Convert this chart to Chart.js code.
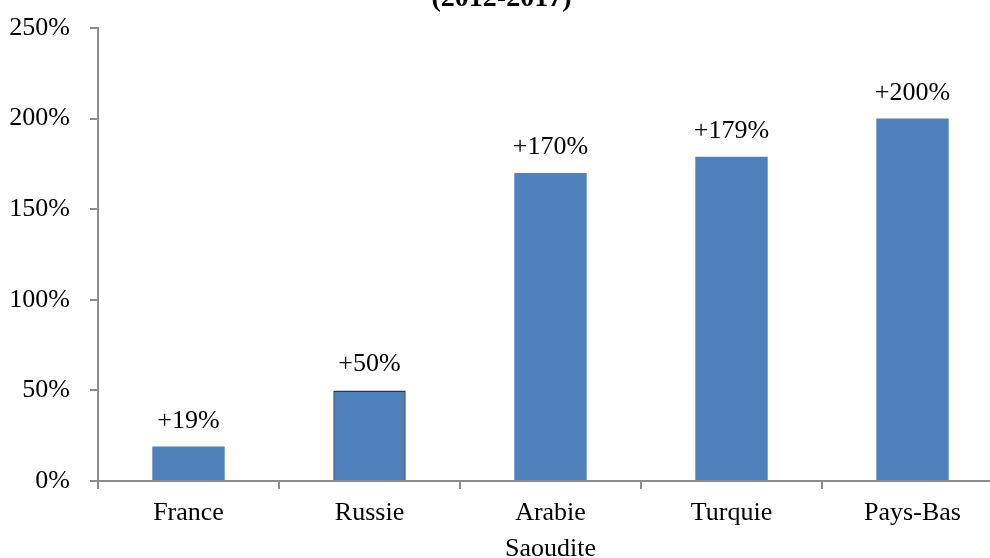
<!DOCTYPE html>
<html>
<head>
<meta charset="utf-8">
<script src="https://cdn.jsdelivr.net/npm/chart.js@4.4.0/dist/chart.umd.min.js"></script>
<style>
html,body{margin:0;padding:0;background:#fff;overflow:hidden;width:990px;height:558px;}
#wrap{position:absolute;left:0;top:-20px;width:1003px;height:600px;}
canvas{display:block;}
</style>
</head>
<body>
<div id="wrap"><canvas id="c" width="1003" height="600"></canvas></div>
<script>
const categories = [["France"], ["Russie"], ["Arabie", "Saoudite"], ["Turquie"], ["Pays-Bas"]];
const growth = [19, 50, 170, 179, 200];
const valueLabels = ["+19%", "+50%", "+170%", "+179%", "+200%"];
const yTicks = [0, 50, 100, 150, 200, 250];
const titleText = "(2012-2017)";

const FONT = "'Liberation Serif', 'DejaVu Serif', serif";
const AXIS = "#8c8c8c";

const labelPlugin = {
  id: 'valueLabels',
  afterDatasetsDraw(chart) {
    const ctx = chart.ctx;
    const meta = chart.getDatasetMeta(0);
    ctx.save();
    ctx.font = "26px " + FONT;
    ctx.fillStyle = "#000";
    ctx.textAlign = "center";
    ctx.textBaseline = "alphabetic";
    meta.data.forEach((bar, i) => {
      ctx.fillText(valueLabels[i], bar.x, bar.y - 19);
    });
    ctx.restore();
  }
};

new Chart(document.getElementById('c'), {
  type: 'bar',
  data: {
    labels: categories,
    datasets: [{
      data: growth,
      backgroundColor: "#4F81BD",
      borderColor: growth.map((v, i) => i === 1 ? "#1F3A60" : "#4F81BD"),
      borderWidth: growth.map((v, i) => i === 1 ? 1.5 : 0),
      barPercentage: 0.4,
      categoryPercentage: 1.0
    }]
  },
  plugins: [labelPlugin],
  options: {
    responsive: false,
    animation: false,
    layout: { padding: { left: 0, right: 0, top: 0, bottom: 0 } },
    plugins: {
      legend: { display: false },
      tooltip: { enabled: false },
      title: {
        display: true,
        text: titleText,
        color: "#000",
        font: { family: FONT, size: 28, weight: 'bold' },
        padding: { top: 2, bottom: 12.4 }
      }
    },
    scales: {
      x: {
        afterFit(s) { s.height = 99; },
        border: { display: true, color: AXIS, width: 2 },
        grid: { display: true, drawOnChartArea: false, drawTicks: true, tickLength: 8, color: AXIS, lineWidth: 2, offset: true },
        ticks: { color: "#000", font: { family: FONT, size: 26, lineHeight: 1.4 }, padding: 6, maxRotation: 0, autoSkip: false }
      },
      y: {
        min: 0, max: 250,
        afterFit(s) { s.width = 98; },
        afterBuildTicks(s) { s.ticks = yTicks.map(v => ({ value: v })); },
        border: { display: true, color: AXIS, width: 2 },
        grid: { display: true, drawOnChartArea: false, drawTicks: true, tickLength: 8, color: AXIS, lineWidth: 2 },
        ticks: { color: "#000", font: { family: FONT, size: 26 }, padding: 20, callback: v => v + "%" }
      }
    }
  }
});
</script>
</body>
</html>
